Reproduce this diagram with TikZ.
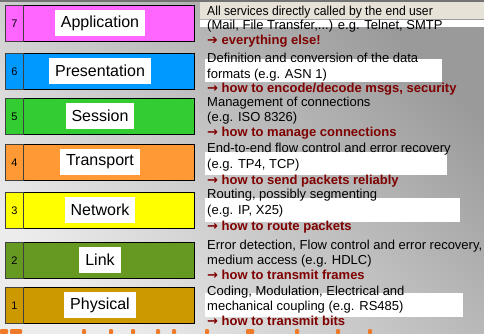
\documentclass[tikz,border=0pt]{standalone}
\usepackage{fontspec}
\usepackage{graphicx}
\setmainfont{Liberation Sans}
\newfontfamily\symfont{DejaVu Sans}
\definecolor{appl}{HTML}{FF66FF}
\definecolor{pres}{HTML}{0099FF}
\definecolor{sess}{HTML}{33CC33}
\definecolor{trans}{HTML}{FF9933}
\definecolor{netw}{HTML}{FFFF00}
\definecolor{linkc}{HTML}{669922}
\definecolor{phys}{HTML}{CC9900}
\definecolor{keyred}{HTML}{7F0000}
\definecolor{beige}{HTML}{E7E2D8}
\definecolor{titleorange}{HTML}{F07A28}
\definecolor{bgdark}{HTML}{9A9A9A}
\definecolor{bglight}{HTML}{ECECEC}

% arrow that starts each key line
\newcommand{\keyarrow}{{\symfont\bfseries →}}

\begin{document}
\begin{tikzpicture}[x=1pt,y=-1pt,
  layerbox/.style={draw=black, line width=1.2pt, rectangle, inner sep=0pt,
    minimum width=189pt, minimum height=36pt, anchor=north west},
  numcell/.style={draw=black!75, line width=1pt, rectangle, inner sep=0pt,
    minimum width=18pt, minimum height=36pt, anchor=north west,
    font=\fontsize{11}{11}\selectfont},
  labelbox/.style={fill=white, rectangle, inner xsep=6pt, inner ysep=0pt,
    minimum height=26pt, font=\fontsize{16}{16}\selectfont},
  desc/.style={anchor=base west, inner sep=0pt, font=\fontsize{13}{15}\selectfont},
  key/.style={desc, text=keyred, font=\fontsize{13}{15}\selectfont\bfseries}
]
\useasboundingbox (0,0) rectangle (484,333);

% background
\shade[top color=bgdark, bottom color=bglight, shading angle=-45]
  (0,0) rectangle (484,333);
\draw[black!55, line width=1.5pt] (0,0.75) -- (484,0.75);

% highlight strips behind some description lines
\fill[beige] (200,2) rectangle (484,18.5);
\fill[white] (200,20) rectangle (484,27);
\fill[white] (205,59) rectangle (442,82);
\fill[white] (205,152) rectangle (447,175);
\fill[white] (205,198) rectangle (460,222);
\fill[white] (205,293) rectangle (463,317);

% layer stack
\foreach \t/\c/\n/\name in {5/appl/7/Application, 53/pres/6/Presentation,
    98/sess/5/Session, 144/trans/4/Transport, 192/netw/3/Network,
    242/linkc/2/Link, 287/phys/1/Physical}{
  \node[layerbox, fill=\c] (box\n) at (5,\t) {};
  \node[numcell] (num\n) at (box\n.north west) {\n};
  \node[labelbox] (lab\n) at (100,\t+18) {\name};
}

% descriptions
\node[desc] (d7a) at (207,15.5) {\scalebox{0.935}[1]{All services directly called by the end user}};
\node[desc] (d7b) at (207,29) {(Mail, File Transfer,...) e.g. Telnet, SMTP};
\node[key]  (k7)  at (207,44.5) {{\symfont\bfseries ➔} everything else!};

\node[desc] (d6a) at (207,62) {Definition and conversion of the data};
\node[desc] (d6b) at (207,78) {formats (e.g. ASN 1)};
\node[key]  (k6)  at (207,92.5) {\keyarrow{} how to encode/decode msgs, security};

\node[desc] (d5a) at (207,106) {Management of connections};
\node[desc] (d5b) at (207,121) {(e.g. ISO 8326)};
\node[key]  (k5)  at (207,136) {\keyarrow{} how to manage connections};

\node[desc] (d4a) at (207,152) {End-to-end flow control and error recovery};
\node[desc] (d4b) at (207,168) {(e.g. TP4, TCP)};
\node[key]  (k4)  at (207,184) {\keyarrow{} how to send packets reliably};

\node[desc] (d3a) at (207,198.5) {Routing, possibly segmenting};
\node[desc] (d3b) at (207,214) {(e.g. IP, X25)};
\node[key]  (k3)  at (207,230) {\keyarrow{} how to route packets};

\node[desc] (d2a) at (207,249) {Error detection, Flow control and error recovery,};
\node[desc] (d2b) at (207,264) {medium access (e.g. HDLC)};
\node[key]  (k2)  at (207,279.5) {\keyarrow{} how to transmit frames};

\node[desc] (d1a) at (207,295) {Coding, Modulation, Electrical and};
\node[desc] (d1b) at (207,310) {mechanical coupling (e.g. RS485)};
\node[key]  (k1)  at (207,325.5) {\keyarrow{} how to transmit bits};

% tops of the heading cut off by the lower edge
\foreach \a/\b in {0/8, 10/22, 82/86, 109/113, 131/135, 156/160, 172/176,
    205/209, 246/254, 295/299, 336/340, 368/372}{
  \fill[titleorange, rounded corners=1pt] (\a,329) rectangle (\b,334);
}
\end{tikzpicture}
\end{document}
